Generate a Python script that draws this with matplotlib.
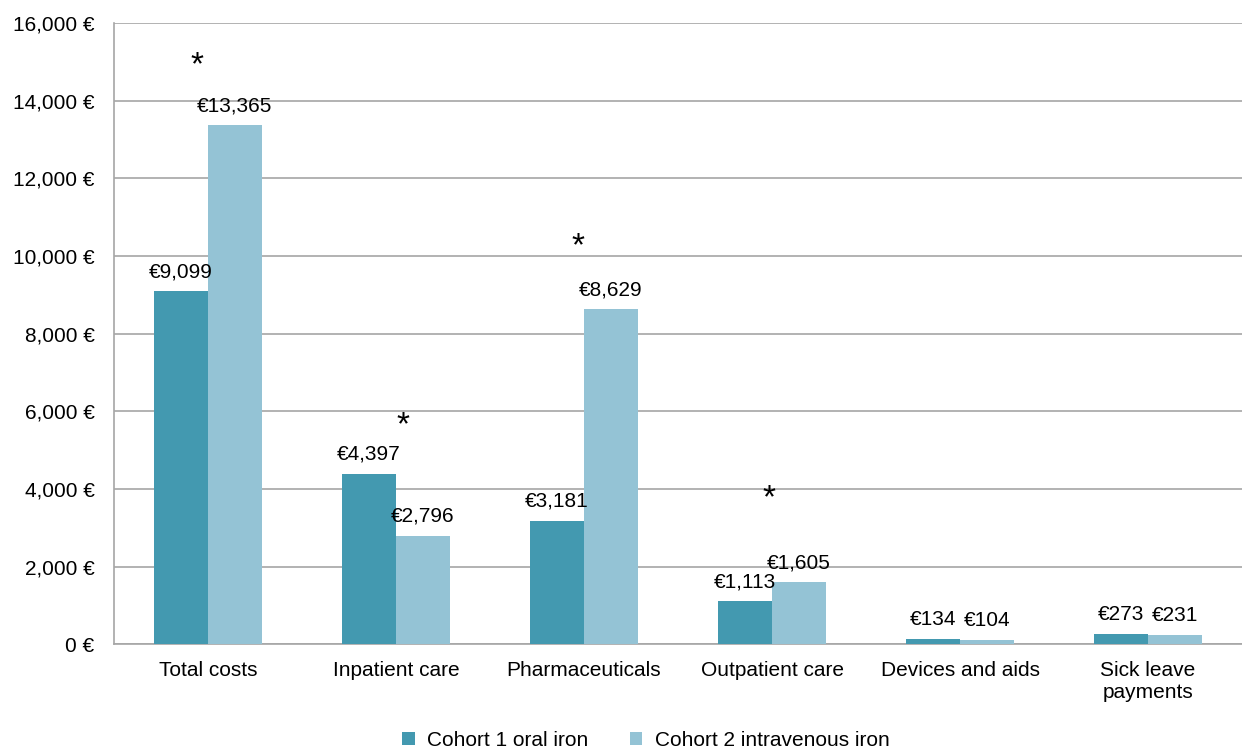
import matplotlib.pyplot as plt
import matplotlib.ticker as mticker
import numpy as np

plt.rcParams['font.family'] = ['Liberation Sans', 'DejaVu Sans']

categories = ["Total costs", "Inpatient care", "Pharmaceuticals",
              "Outpatient care", "Devices and aids", "Sick leave\npayments"]
oral = [9099, 4397, 3181, 1113, 134, 273]
iv = [13365, 2796, 8629, 1605, 104, 231]
# significance asterisks: (category index, offset from centre, height in euros)
stars = [(0, -0.058, 14900), (1, 0.037, 5620), (2, -0.032, 10250), (3, -0.016, 3740)]

c_oral = '#4399B0'
c_iv = '#94C3D5'

fig = plt.figure(figsize=(12.42, 7.49), dpi=100)
ax = fig.add_axes([0.0918, 0.140, 0.9082, 0.829])

x = np.arange(len(categories))
w = 0.287
b1 = ax.bar(x - w / 2, oral, w, color=c_oral, label='Cohort 1 oral iron', zorder=3)
b2 = ax.bar(x + w / 2, iv, w, color=c_iv, label='Cohort 2 intravenous iron', zorder=3)

for bars, vals in ((b1, oral), (b2, iv)):
    for rect, v in zip(bars, vals):
        ax.annotate(f"€{v:,}", (rect.get_x() + rect.get_width() / 2, v),
                    xytext=(0, 7), textcoords='offset points', ha='center',
                    va='bottom', fontsize=15)

for i, dx, y in stars:
    ax.text(i + dx, y, '*', ha='center', va='center', fontsize=24)

ax.set_xlim(-0.5, len(categories) - 0.5)
ax.set_ylim(0, 16000)
ax.yaxis.set_major_locator(mticker.MultipleLocator(2000))
ax.yaxis.set_major_formatter(mticker.FuncFormatter(lambda v, p: f"{v:,.0f} €"))
ax.grid(axis='y', color='#A6A6A6', linewidth=1.2, zorder=0)
ax.set_xticks(x)
ax.set_xticklabels(categories, fontsize=15)
ax.tick_params(axis='both', length=0, labelsize=15)
ax.tick_params(axis='x', pad=12)
ax.tick_params(axis='y', pad=14)

for s in ['top', 'right']:
    ax.spines[s].set_visible(False)
for s in ['left', 'bottom']:
    ax.spines[s].set_color('#A6A6A6')
    ax.spines[s].set_linewidth(1.2)

fig.legend(handles=[b1, b2], loc='lower center', ncol=2, frameon=False,
           fontsize=15, bbox_to_anchor=(0.52, -0.026), handlelength=0.6,
           handleheight=0.6, columnspacing=2.0, handletextpad=0.6)

fig.savefig('out.png', dpi=100)
